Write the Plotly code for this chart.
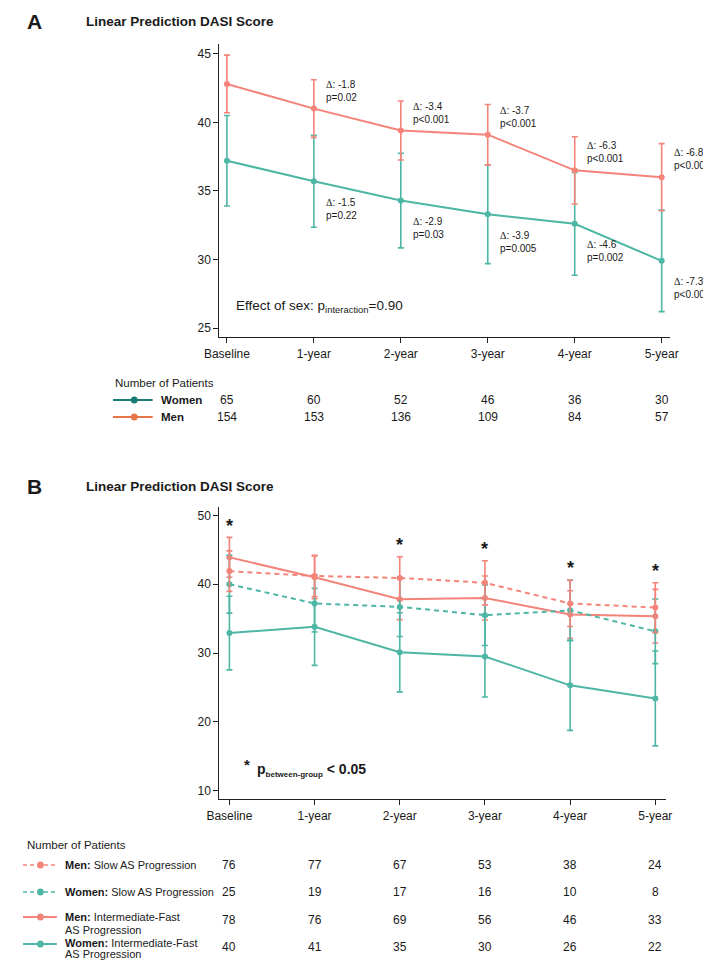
import plotly.graph_objects as go

# ---------------- data ----------------
categories = ["Baseline", "1-year", "2-year", "3-year", "4-year", "5-year"]

# Panel A
men_a = [42.8, 41.0, 39.4, 39.1, 36.5, 36.0]
men_a_err = [2.1, 2.1, 2.15, 2.2, 2.45, 2.45]
women_a = [37.2, 35.7, 34.3, 33.3, 32.6, 29.9]
women_a_err = [3.3, 3.35, 3.45, 3.6, 3.75, 3.7]
men_delta = ["-1.8", "-3.4", "-3.7", "-6.3", "-6.8"]
men_p = ["p=0.02", "p<0.001", "p<0.001", "p<0.001", "p<0.001"]
women_delta = ["-1.5", "-2.9", "-3.9", "-4.6", "-7.3"]
women_p = ["p=0.22", "p=0.03", "p=0.005", "p=0.002", "p<0.001"]
n_women_a = [65, 60, 52, 46, 36, 30]
n_men_a = [154, 153, 136, 109, 84, 57]

# Panel B
men_slow = [41.9, 41.2, 40.9, 40.2, 37.2, 36.6]
men_slow_err = [2.95, 3.0, 3.1, 3.2, 3.35, 3.6]
women_slow = [40.0, 37.2, 36.7, 35.5, 36.2, 33.15]
women_slow_err = [4.2, 4.15, 4.3, 4.4, 4.4, 4.7]
men_fast = [43.9, 41.0, 37.8, 38.0, 35.6, 35.35]
men_fast_err = [2.9, 3.1, 2.95, 3.2, 3.45, 3.9]
women_fast = [32.9, 33.8, 30.1, 29.5, 25.3, 23.4]
women_fast_err = [5.35, 5.6, 5.75, 5.9, 6.55, 6.9]
star_idx = [0, 2, 3, 4, 5]
n_men_slow = [76, 77, 67, 53, 38, 24]
n_women_slow = [25, 19, 17, 16, 10, 8]
n_men_fast = [78, 76, 69, 56, 46, 33]
n_women_fast = [40, 41, 35, 30, 26, 22]

# ---------------- style ----------------
SALMON = "#F4837A"
TEAL = "#4DB6A5"
LEG_TEAL = "#167D70"
LEG_ORANGE = "#E8744A"
TXT = "#1a1a1a"
FONT = "Liberation Sans, Arial, sans-serif"
SERIF = "Liberation Serif, Times New Roman, serif"

W, H = 711, 960


def px(x):
    return x / W


def py(y):
    return 1 - y / H


xi = list(range(len(categories)))

fig = go.Figure()


def add_series(x, y, err, color, dash, xa, ya):
    fig.add_trace(go.Scatter(
        x=x, y=y, xaxis=xa, yaxis=ya, mode="lines+markers",
        line=dict(color=color, width=2, dash=dash),
        marker=dict(color=color, size=6),
        error_y=dict(type="data", array=err, visible=True, color=color,
                     thickness=1.6, width=3),
        showlegend=False, hoverinfo="skip"))


# Panel A
add_series(xi, women_a, women_a_err, TEAL, "solid", "x", "y")
add_series(xi, men_a, men_a_err, SALMON, "solid", "x", "y")

# Panel B
add_series(xi, women_fast, women_fast_err, TEAL, "solid", "x2", "y2")
add_series(xi, men_fast, men_fast_err, SALMON, "solid", "x2", "y2")
add_series(xi, women_slow, women_slow_err, TEAL, "5px,4px", "x2", "y2")
add_series(xi, men_slow, men_slow_err, SALMON, "5px,4px", "x2", "y2")

ann = []
shapes = []


def text(x, y, t, size, bold=False, xanchor="left", family=FONT, **kw):
    ann.append(dict(x=x, y=y, xref=kw.pop("xref", "paper"), yref=kw.pop("yref", "paper"),
                    text=f"<b>{t}</b>" if bold else t, showarrow=False,
                    xanchor=xanchor, yanchor="middle",
                    font=dict(family=family, size=size, color=TXT), **kw))


# Titles / panel letters
text(px(2), py(13), "A", 21, bold=True)
text(px(63), py(13), "Linear Prediction DASI Score", 13.5, bold=True)
text(px(2), py(478), "B", 21, bold=True)
text(px(63), py(478), "Linear Prediction DASI Score", 13.5, bold=True)

DELTA = f"<span style='font-family:{SERIF}'>Δ</span>"

# Delta annotations panel A
for i in range(1, 6):
    text(i, men_a[i] + 1.3,
         f"{DELTA}: {men_delta[i-1]}<br>{men_p[i-1].replace('<', '&lt;')}",
         10, xref="x", yref="y", xshift=10, align="left")
    text(i, women_a[i] - 2.0,
         f"{DELTA}: {women_delta[i-1]}<br>{women_p[i-1].replace('<', '&lt;')}",
         10, xref="x", yref="y", xshift=10, align="left")

text(px(218), py(298), "Effect of sex: p<sub>interaction</sub>=0.90", 13.5)

# Stars panel B (placed above the highest error bar at each starred time point)
for i in star_idx:
    top = max(men_slow[i] + men_slow_err[i], women_slow[i] + women_slow_err[i],
              men_fast[i] + men_fast_err[i], women_fast[i] + women_fast_err[i])
    ann.append(dict(x=i, y=top + 2.3, xref="x2", yref="y2", text="<b>*</b>",
                    showarrow=False, xanchor="center", yanchor="middle", yshift=-4,
                    font=dict(family=FONT, size=18, color=TXT)))

text(px(231), py(756), "*", 15, bold=True, xanchor="center")
text(px(240), py(762),
     "p<sub><span style='font-size:8px'>between-group</span></sub> &lt; 0.05",
     14, bold=True)


# ---------------- tables ----------------
def row_numbers(vals, yp, xref):
    for i, v in enumerate(vals):
        ann.append(dict(x=i, y=py(yp), xref=xref, yref="paper", text=str(v),
                        showarrow=False, xanchor="center", yanchor="middle",
                        font=dict(family=FONT, size=12, color=TXT)))


def legend_key(x0, x1, xm, yp, color, dash, width=2):
    shapes.append(dict(type="line", xref="paper", yref="paper",
                       x0=px(x0), x1=px(x1), y0=py(yp), y1=py(yp),
                       line=dict(color=color, width=width, dash=dash)))
    shapes.append(dict(type="circle", xref="paper", yref="paper",
                       x0=px(xm - 3.5), x1=px(xm + 3.5),
                       y0=py(yp + 3.5), y1=py(yp - 3.5),
                       fillcolor=color, line=dict(color=color, width=0)))


# Panel A table
text(px(93), py(375), "Number of Patients", 11.5)
legend_key(93, 134, 115, 392, LEG_TEAL, "solid")
legend_key(93, 134, 115, 409, LEG_ORANGE, "solid")
text(px(141), py(392), "Women", 11.5, bold=True)
text(px(141), py(409), "Men", 11.5, bold=True)
row_numbers(n_women_a, 392, "x")
row_numbers(n_men_a, 409, "x")

# Panel B table
text(px(2), py(837), "Number of Patients", 11.5)
legend_key(0, 35, 18, 857, SALMON, "4px,3px", 1.4)
legend_key(0, 35, 18, 884, TEAL, "4px,3px", 1.4)
legend_key(0, 35, 18, 909, SALMON, "solid")
legend_key(0, 35, 18, 936, TEAL, "solid")
text(px(41), py(857), "<b>Men:</b> Slow AS Progression", 11)
text(px(41), py(884), "<b>Women:</b> Slow AS Progression", 11)
text(px(41), py(908.5), "<b>Men:</b> Intermediate-Fast", 11)
text(px(41), py(922), "AS Progression", 11)
text(px(41), py(935), "<b>Women:</b> Intermediate-Fast", 11)
text(px(41), py(946), "AS Progression", 11)
row_numbers(n_men_slow, 857, "x2")
row_numbers(n_women_slow, 884, "x2")
row_numbers(n_men_fast, 912, "x2")
row_numbers(n_women_fast, 938.5, "x2")

axis_common = dict(showline=True, linecolor="#222", linewidth=1.3, ticks="outside",
                   ticklen=5, tickcolor="#222", showgrid=False, zeroline=False,
                   tickfont=dict(family=FONT, size=12, color=TXT))

fig.update_layout(
    width=W, height=H, margin=dict(l=0, r=0, t=0, b=0),
    paper_bgcolor="white", plot_bgcolor="white",
    xaxis=dict(domain=[px(203), px(669)], anchor="y", range=[-0.086, 5.1],
               tickmode="array", tickvals=xi, ticktext=categories, **axis_common),
    yaxis=dict(domain=[py(329), py(36)], anchor="x", range=[24.35, 45.71],
               tickvals=[25, 30, 35, 40, 45], **axis_common),
    xaxis2=dict(domain=[px(203), px(664)], anchor="y2", range=[-0.117, 5.12],
                tickmode="array", tickvals=xi, ticktext=categories, **axis_common),
    yaxis2=dict(domain=[py(791), py(499)], anchor="x2", range=[8.78, 51.22],
                tickvals=[10, 20, 30, 40, 50], **axis_common),
    annotations=ann, shapes=shapes,
)

fig.write_html("out.html")
